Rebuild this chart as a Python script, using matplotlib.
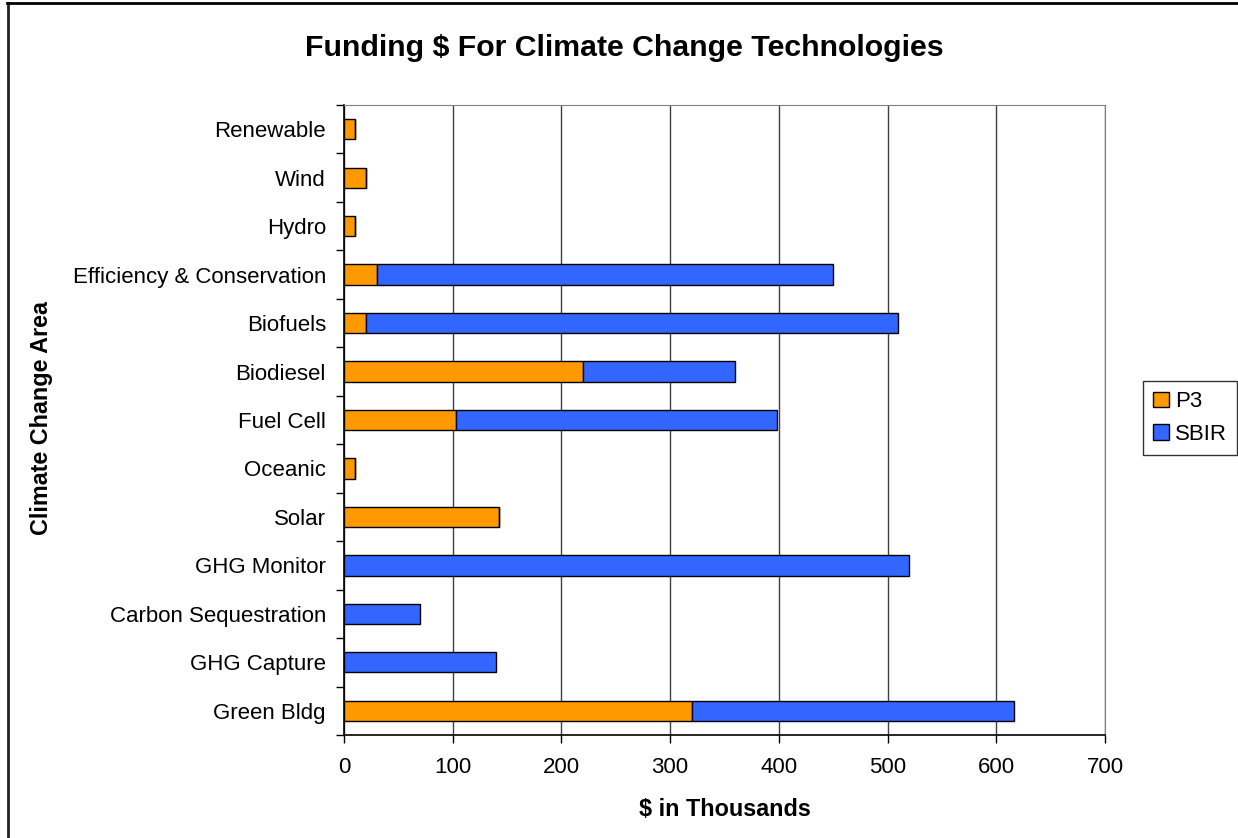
"""Funding chart for climate change technologies."""

import matplotlib.pyplot as plt
import numpy as np
from matplotlib.lines import Line2D

categories = [
    "Green Bldg",
    "GHG Capture",
    "Carbon Sequestration",
    "GHG Monitor",
    "Solar",
    "Oceanic",
    "Fuel Cell",
    "Biodiesel",
    "Biofuels",
    "Efficiency & Conservation",
    "Hydro",
    "Wind",
    "Renewable",
]
p3 = [320, 0, 0, 0, 143, 10, 103, 220, 20, 30, 10, 20, 10]
sbir = [296, 140, 70, 520, 0, 0, 295, 140, 490, 420, 0, 0, 0]
x_ticks = [0, 100, 200, 300, 400, 500, 600, 700]

plt.rcParams["font.family"] = ["Liberation Sans", "DejaVu Sans"]

W, H = 1238, 838
fig = plt.figure(figsize=(W / 100, H / 100), dpi=100)
ax = fig.add_axes([344 / W, 1 - 735 / H, (1105 - 344) / W, (735 - 105) / H])

y = np.arange(len(categories))
ax.barh(y, p3, height=0.42, color="#FF9900", edgecolor="black", linewidth=1, label="P3", zorder=3)
ax.barh(y, sbir, left=p3, height=0.42, color="#3366FF", edgecolor="black", linewidth=1,
        label="SBIR", zorder=3)

ax.set_xlim(0, 700)
ax.set_ylim(-0.5, len(categories) - 0.5)
ax.set_xticks(x_ticks)
ax.set_xticklabels([str(t) for t in x_ticks], fontsize=16)
ax.set_yticks(y)
ax.set_yticklabels(categories, fontsize=16)
ax.set_yticks(np.arange(len(categories) + 1) - 0.5, minor=True)
ax.tick_params(axis="y", which="major", length=0, pad=13)
ax.tick_params(axis="y", which="minor", length=6, width=1, direction="out")
ax.tick_params(axis="x", which="major", length=6, width=1, direction="out", pad=10)

ax.grid(axis="x", color="#404040", linewidth=1, zorder=0)
for side in ["top", "right"]:
    ax.spines[side].set_color("#808080")
for side in ["left", "bottom"]:
    ax.spines[side].set_color("black")
    ax.spines[side].set_linewidth(1.2)

ax.set_xlabel("$ in Thousands", fontsize=16.8, fontweight="bold", labelpad=14)
fig.text(42 / W, 1 - 418 / H, "Climate Change Area", rotation=90, fontsize=16.8,
         fontweight="bold", ha="center", va="center")
fig.text(624 / W, 1 - 48 / H, "Funding $ For Climate Change Technologies",
         fontsize=21.8, fontweight="bold", ha="center", va="center")

leg = fig.legend(loc="center left", bbox_to_anchor=(1143 / W, 1 - 418 / H), fontsize=16,
                 frameon=True, fancybox=False, edgecolor="black", handlelength=0.7,
                 handleheight=0.7, handletextpad=0.3, borderpad=0.45, labelspacing=0.5,
                 borderaxespad=0)
leg.get_frame().set_linewidth(1)

# outer chart border: only left and top edges are visible in the source
fig.add_artist(Line2D([7.5 / W, 7.5 / W], [0, 1 - 3 / H], color="#222222", linewidth=2,
                      transform=fig.transFigure))
fig.add_artist(Line2D([7 / W, 1], [1 - 3.5 / H, 1 - 3.5 / H], color="black", linewidth=2,
                      transform=fig.transFigure))

fig.savefig("out.png", dpi=100)
plt.close(fig)
